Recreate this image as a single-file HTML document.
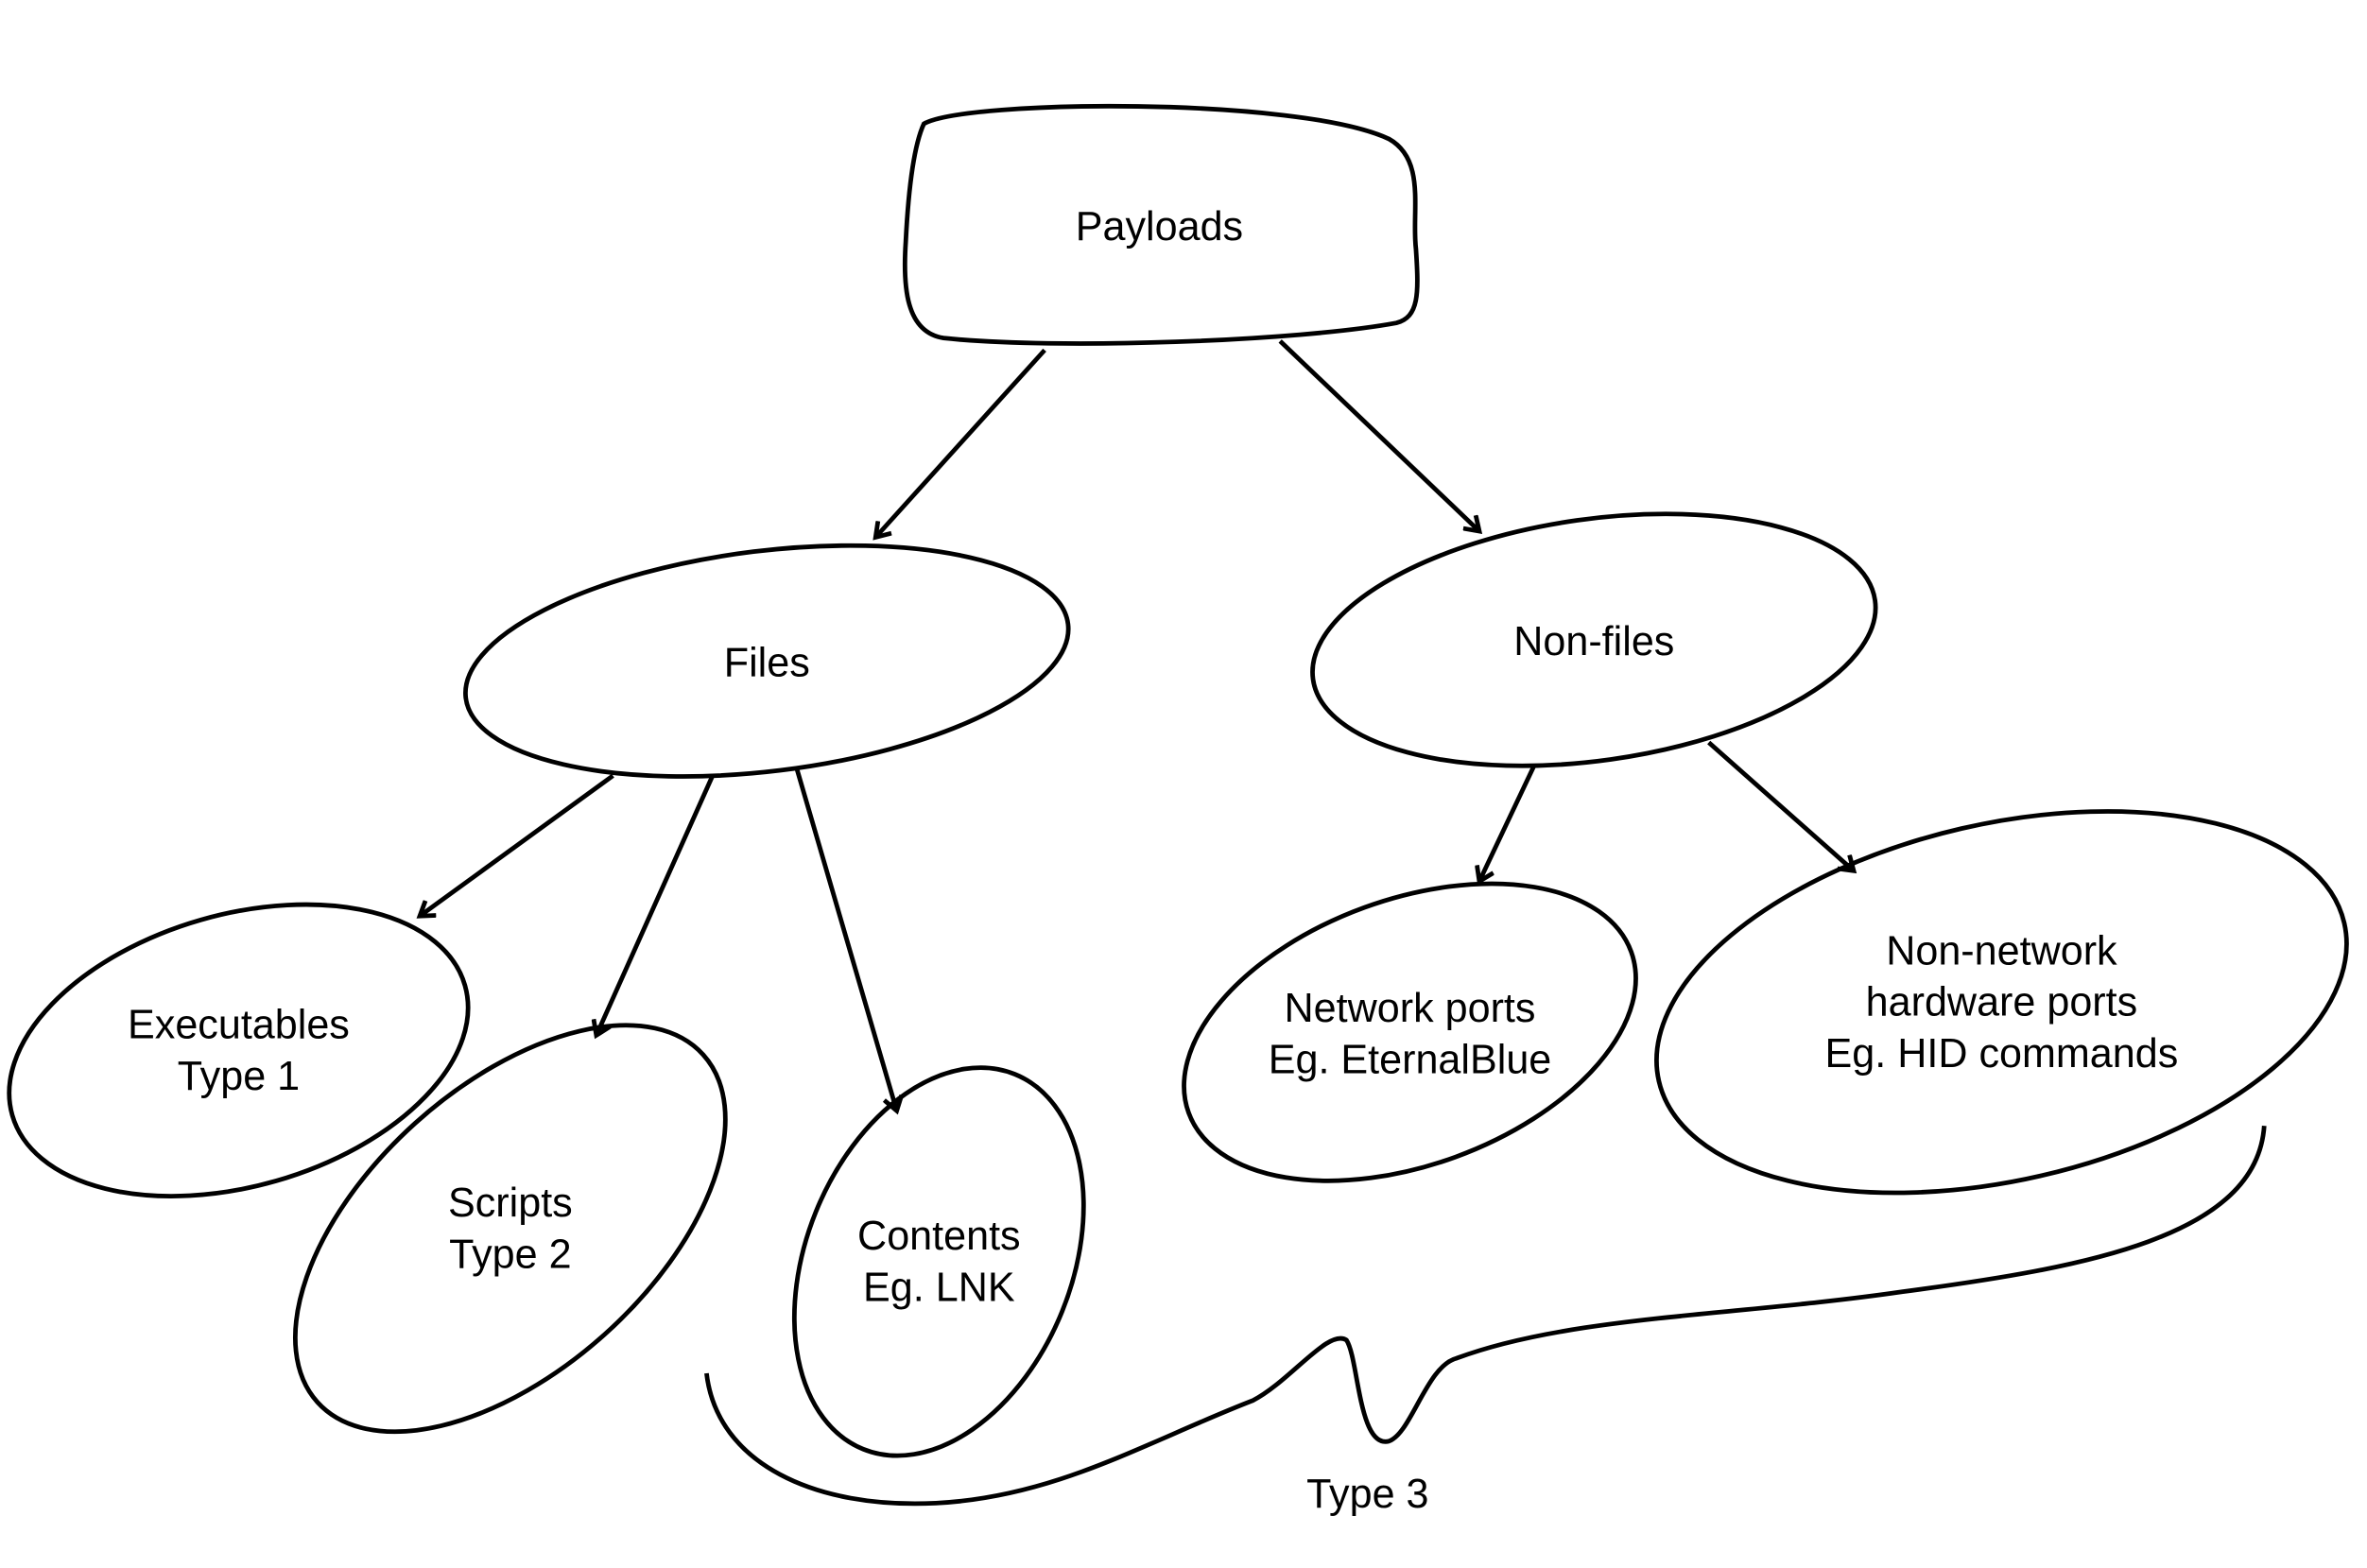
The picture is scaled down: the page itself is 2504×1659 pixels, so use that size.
<!DOCTYPE html>
<html><head><meta charset="utf-8"><style>
html,body{margin:0;padding:0;background:#fff;}
svg{display:block;}
text{font-family:"Liberation Sans",sans-serif;font-size:27px;fill:#000;text-anchor:middle;}
</style></head><body>
<svg width="2504" height="1659" viewBox="0 0 1568 1039" xmlns="http://www.w3.org/2000/svg">
<defs>
<marker id="a" markerWidth="14" markerHeight="14" refX="10" refY="7" orient="auto" markerUnits="userSpaceOnUse">
<path d="M1,1 L10,7 L1,13" fill="none" stroke="#000" stroke-width="3"/>
</marker>
</defs>
<g fill="none" stroke="#000" stroke-width="3">
<path d="M612,82 C640,66 860,64 920,92 C945,106 935,140 938,165 C940,195 940,210 925,214 C860,226 700,232 625,224 C600,220 598,190 600,160 C602,120 606,95 612,82 Z"/>
<line x1="692" y1="232" x2="580" y2="356" marker-end="url(#a)"/>
<line x1="848" y1="226" x2="980" y2="352" marker-end="url(#a)"/>
<ellipse cx="508" cy="438" rx="201" ry="73" transform="rotate(-7 508 438)"/>
<ellipse cx="1056" cy="424" rx="188" ry="80" transform="rotate(-8 1056 424)"/>
<line x1="406" y1="514" x2="278" y2="607" marker-end="url(#a)"/>
<line x1="472" y1="514" x2="395" y2="686" marker-end="url(#a)"/>
<line x1="528" y1="510" x2="594" y2="736" marker-end="url(#a)"/>
<line x1="1016" y1="508" x2="980" y2="584" marker-end="url(#a)"/>
<line x1="1132" y1="492" x2="1228" y2="577" marker-end="url(#a)"/>
<ellipse cx="158" cy="696" rx="156" ry="90" transform="rotate(-16 158 696)"/>
<ellipse cx="338" cy="814" rx="172" ry="94" transform="rotate(-42 338 814)"/>
<ellipse cx="622" cy="836" rx="88" ry="134" transform="rotate(22 622 836)"/>
<ellipse cx="934" cy="684" rx="156" ry="88" transform="rotate(-20 934 684)"/>
<ellipse cx="1326" cy="664" rx="233" ry="118" transform="rotate(-13 1326 664)"/>
<path d="M468,910 C475,970 540,1000 620,996 C700,992 760,955 830,928 C855,915 880,880 892,888 C900,900 900,960 920,955 C935,950 945,905 965,900 C1040,872 1150,872 1260,856 C1380,840 1495,820 1500,746"/>
</g>
<text x="768" y="159">Payloads</text>
<text x="508" y="448">Files</text>
<text x="1056" y="434">Non-files</text>
<text x="158" y="688">Executables</text>
<text x="158" y="722">Type 1</text>
<text x="338" y="806">Scripts</text>
<text x="338" y="840">Type 2</text>
<text x="622" y="828">Contents</text>
<text x="622" y="862">Eg. LNK</text>
<text x="934" y="677">Network ports</text>
<text x="934" y="711">Eg. EternalBlue</text>
<text x="1326" y="639">Non-network</text>
<text x="1326" y="673">hardware ports</text>
<text x="1326" y="707">Eg. HID commands</text>
<text x="906" y="999">Type 3</text>
</svg>
</body></html>
